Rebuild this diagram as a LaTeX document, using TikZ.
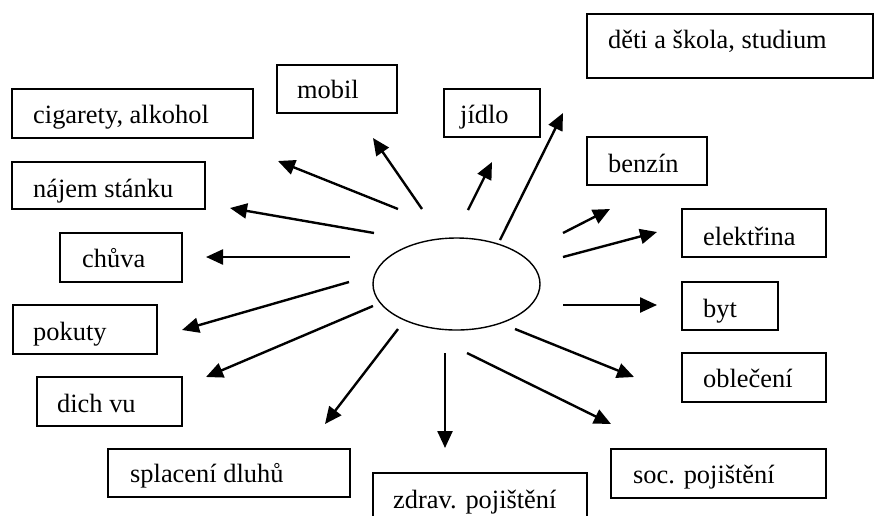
\documentclass[tikz,border=0pt]{standalone}
\usepackage{fontspec}
\setmainfont{Liberation Serif}
\usetikzlibrary{arrows.meta,shapes.geometric}
\begin{document}
\begin{tikzpicture}[x=1pt,y=-1pt,
  box/.style={draw, line width=1.8pt, anchor=north west, inner sep=0pt, outer sep=0pt},
  lbl/.style={anchor=base west, inner sep=0pt, font=\fontsize{26.4}{30}\selectfont},
  arr/.style={line width=2.4pt, -{Triangle[length=17pt,width=15pt]}},
  ell/.style={draw, ellipse, line width=1.4pt, minimum width=167pt, minimum height=92pt, inner sep=0pt}]
\useasboundingbox (0,0) rectangle (877,515);
\fill[white] (0,0) rectangle (877,515);

% boxes
\node[box, minimum width=241pt, minimum height=49pt] (cig) at (12,89) {};
\node[box, minimum width=193pt, minimum height=47pt] (naj) at (12,162) {};
\node[box, minimum width=122pt, minimum height=49pt] (chu) at (60,233) {};
\node[box, minimum width=144pt, minimum height=49pt] (pok) at (13,305) {};
\node[box, minimum width=145pt, minimum height=49pt] (dich) at (37,377) {};
\node[box, minimum width=242pt, minimum height=48pt] (spl) at (108,449) {};
\node[box, minimum width=214pt, minimum height=70pt] (zdr) at (373,473) {};
\node[box, minimum width=215pt, minimum height=49pt] (soc) at (611,449) {};
\node[box, minimum width=144pt, minimum height=49pt] (obl) at (682,353) {};
\node[box, minimum width=96pt, minimum height=48pt] (byt) at (682,282) {};
\node[box, minimum width=144pt, minimum height=48pt] (ele) at (682,209) {};
\node[box, minimum width=120pt, minimum height=48pt] (ben) at (587,137) {};
\node[box, minimum width=286pt, minimum height=64pt] (det) at (587,14) {};
\node[box, minimum width=96pt, minimum height=48pt] (jid) at (444,89) {};
\node[box, minimum width=120pt, minimum height=48pt] (mob) at (277,65) {};

% labels
\node[lbl] (tcig) at (33,123) {cigarety, alkohol};
\node[lbl] (tnaj) at (33,197) {nájem stánku};
\node[lbl] (tchu) at (82,267) {chůva};
\node[lbl] (tpok) at (33,340) {pokuty};
\node[lbl] (tdich) at (57,412) {dich vu};
\node[lbl] (tspl) at (130,482) {splacení dluhů};
\node[lbl] (tzdr) at (393,508) {zdrav. pojištění};
\node[lbl] (tsoc) at (633,483) {soc. pojištění};
\node[lbl] (tobl) at (703,387) {oblečení};
\node[lbl] (tbyt) at (703,317) {byt};
\node[lbl] (tele) at (703,245) {elektřina};
\node[lbl] (tben) at (608,172) {benzín};
\node[lbl] (tdet) at (608,48) {děti a škola, studium};
\node[lbl] (tjid) at (460,123) {jídlo};
\node[lbl] (tmob) at (297,98) {mobil};

% centre ellipse
\node[ell] (c) at (456.5,284) {};

% arrow end points
\coordinate (s1) at (398,209);  \coordinate (e1) at (278,161);
\coordinate (s2) at (422,209);  \coordinate (e2) at (373,138);
\coordinate (s3) at (374,233);  \coordinate (e3) at (230,208);
\coordinate (s4) at (350,257);  \coordinate (e4) at (206,257);
\coordinate (s5) at (468,210);  \coordinate (e5) at (492,162);
\coordinate (s6) at (500,240);  \coordinate (e6) at (563,113);
\coordinate (s7) at (563,233);  \coordinate (e7) at (610,209);
\coordinate (s8) at (563,257);  \coordinate (e8) at (657,232);
\coordinate (s9) at (563,305);  \coordinate (e9) at (657,305);
\coordinate (s10) at (515,329); \coordinate (e10) at (634,377);
\coordinate (s11) at (467,353); \coordinate (e11) at (611,424);
\coordinate (s12) at (445,353); \coordinate (e12) at (445,448);
\coordinate (s13) at (398,329); \coordinate (e13) at (325,424);
\coordinate (s14) at (373,306); \coordinate (e14) at (206,377);
\coordinate (s15) at (349,282); \coordinate (e15) at (182,330);

\foreach \i in {1,...,15} { \draw[arr] (s\i) -- (e\i); }
\end{tikzpicture}
\end{document}
